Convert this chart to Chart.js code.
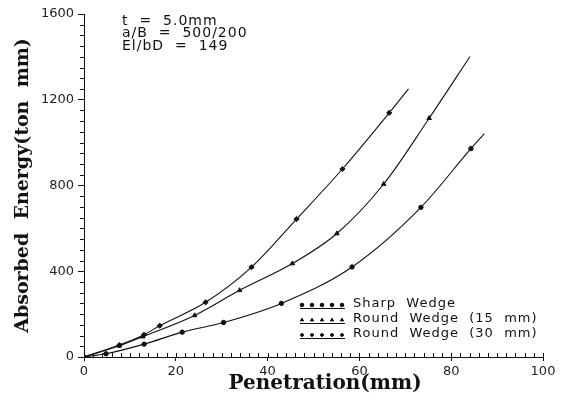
<!DOCTYPE html>
<html lang="en">
<head>
  <meta charset="UTF-8">
  <title>Absorbed Energy vs Penetration</title>
  <script src="https://cdn.jsdelivr.net/npm/chart.js"></script>
  <style>
    body { margin: 0; background: #fff; }
    #wrap { width: 563px; height: 403px; }
  </style>
</head>
<body>
  <div id="wrap"><canvas id="energyChart" width="563" height="403"></canvas></div>

  <script>
    // values
    const sharpX = [0, 4.8, 13.1, 21.4, 30.4, 43.0, 58.4, 73.4, 84.3, 87.2];
    const sharpY = [0, 15, 60, 116, 161, 250, 420, 698, 972, 1041];

    const round15X = [0, 7.7, 12.8, 24.1, 33.9, 45.4, 55.1, 65.3, 75.2, 84.1];
    const round15Y = [0, 52, 95, 194, 311, 436, 576, 807, 1114, 1402];

    const round30X = [0, 7.7, 13.1, 16.5, 26.5, 36.5, 46.3, 56.3, 66.5, 70.7];
    const round30Y = [0, 56, 104, 146, 255, 419, 643, 877, 1139, 1251];

    const xTicks = [0, 20, 40, 60, 80, 100];
    const yTicks = [0, 400, 800, 1200, 1600];

    const seriesNames = ['Sharp  Wedge', 'Round  Wedge  (15  mm)', 'Round  Wedge  (30  mm)'];
    const noteLines = ['t  =  5.0mm', 'a/B  =  500/200', 'El/bD  =  149'];
    const xTitle = 'Penetration(mm)';

    function toPoints(xs, ys) {
      return xs.map((x, i) => ({ x: x, y: ys[i] }));
    }
    // markers on every point but the curve end
    function radii(xs, r) {
      return xs.map((x, i) => i === xs.length - 1 ? 0 : r);
    }

    const lineStyle = {
      borderColor: '#111',
      backgroundColor: '#111',
      pointBackgroundColor: '#111',
      pointBorderColor: '#111',
      borderWidth: 1.1,
      pointBorderWidth: 1,
      cubicInterpolationMode: 'monotone',
      fill: false
    };

    const extras = {
      id: 'extras',
      afterDraw(chart) {
        const ctx = chart.ctx;
        const xs = chart.scales.x;
        const ys = chart.scales.y;
        const left = chart.chartArea.left;
        const bottom = chart.chartArea.bottom;

        ctx.save();
        ctx.strokeStyle = '#111';
        ctx.lineWidth = 1;
        ctx.beginPath();
        // minor ticks on x, pointing up
        for (let v = 0; v <= 100; v += 2) {
          const px = Math.round(xs.getPixelForValue(v)) + 0.5;
          ctx.moveTo(px, bottom + 0.5);
          ctx.lineTo(px, bottom - 4);
        }
        // minor ticks on y, pointing left
        for (let v = 0; v <= 1600; v += 50) {
          if (v % 400 === 0) continue;
          const py = Math.round(ys.getPixelForValue(v)) + 0.5;
          ctx.moveTo(left + 0.5, py);
          ctx.lineTo(left - 4, py);
        }
        ctx.stroke();

        ctx.fillStyle = '#111';
        ctx.textBaseline = 'middle';

        // x axis title
        ctx.font = 'bold 20px "DejaVu Serif"';
        ctx.textAlign = 'center';
        ctx.fillText(xTitle, 325, 384);

        // notes top left
        ctx.font = '14px "DejaVu Sans"';
        ctx.letterSpacing = '1px';
        ctx.textAlign = 'left';
        noteLines.forEach((t, i) => ctx.fillText(t, 122, 21 + i * 12.5));

        // legend
        const styles = chart.data.datasets.map(d => d.pointStyle);
        ctx.font = '13px "DejaVu Sans"';
        seriesNames.forEach((name, i) => {
          const y = 304 + i * 15;
          ctx.beginPath();
          ctx.moveTo(300, y + 4.5);
          ctx.lineTo(345, y + 4.5);
          ctx.stroke();
          for (let k = 0; k < 5; k++) {
            Chart.helpers.drawPoint(ctx, { pointStyle: styles[i], radius: 1.8, borderWidth: 1 }, 302 + k * 10, y + 1);
            ctx.fill();
          }
          ctx.fillText(name, 353, y);
        });
        ctx.restore();
      }
    };

    new Chart(document.getElementById('energyChart').getContext('2d'), {
      type: 'line',
      data: {
        datasets: [
          Object.assign({
            label: seriesNames[0],
            data: toPoints(sharpX, sharpY),
            pointStyle: 'circle',
            pointRadius: radii(sharpX, 2.2)
          }, lineStyle),
          Object.assign({
            label: seriesNames[1],
            data: toPoints(round15X, round15Y),
            pointStyle: 'triangle',
            pointRadius: radii(round15X, 2.6)
          }, lineStyle),
          Object.assign({
            label: seriesNames[2],
            data: toPoints(round30X, round30Y),
            pointStyle: 'rectRot',
            pointRadius: radii(round30X, 2.6)
          }, lineStyle)
        ]
      },
      options: {
        responsive: false,
        animation: false,
        layout: { padding: { top: 14, right: 20, left: 0, bottom: 0 } },
        plugins: {
          legend: { display: false },
          tooltip: { enabled: false }
        },
        scales: {
          x: {
            type: 'linear',
            min: 0,
            max: 100,
            afterBuildTicks: s => { s.ticks = xTicks.map(v => ({ value: v })); },
            afterFit: s => { s.height = 46; },
            border: { display: true, color: '#111', width: 1 },
            grid: { drawOnChartArea: false, drawTicks: true, tickLength: 4, color: '#111' },
            ticks: {
              color: '#222',
              padding: 3,
              font: { family: 'DejaVu Sans', size: 13 },
              callback: v => String(v)
            }
          },
          y: {
            min: 0,
            max: 1600,
            afterBuildTicks: s => { s.ticks = yTicks.map(v => ({ value: v })); },
            afterFit: s => { s.width = 84; },
            border: { display: true, color: '#111', width: 1 },
            grid: { drawOnChartArea: false, drawTicks: true, tickLength: 6, color: '#111' },
            ticks: {
              color: '#222',
              padding: 4,
              font: { family: 'DejaVu Sans', size: 13 },
              callback: v => String(v)
            },
            title: {
              display: true,
              text: 'Absorbed  Energy(ton  mm)',
              color: '#111',
              padding: { top: 12, bottom: 0 },
              font: { family: 'DejaVu Serif', size: 19, weight: 'bold' }
            }
          }
        }
      },
      plugins: [extras]
    });
  </script>
</body>
</html>
